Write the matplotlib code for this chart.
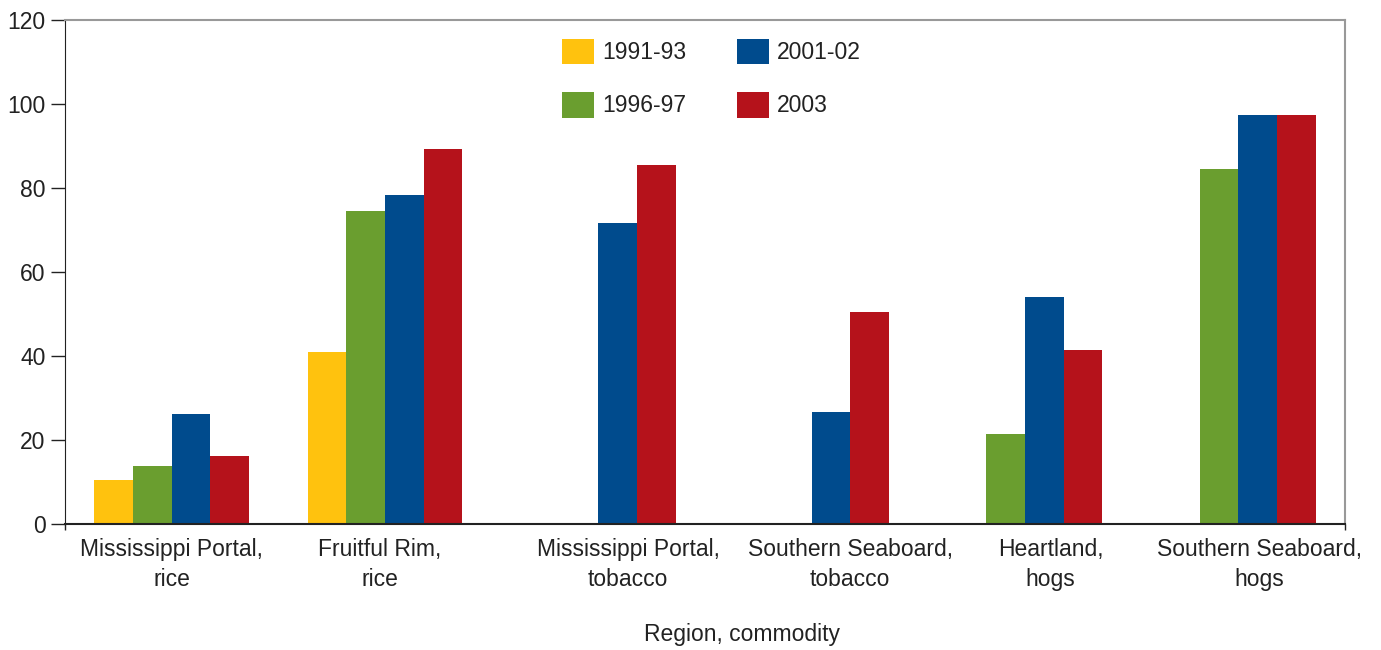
import numpy as np
import matplotlib
matplotlib.use("Agg")
import matplotlib.pyplot as plt

plt.rcParams['font.family'] = ['Liberation Sans', 'DejaVu Sans']

# Datos
groups = ["Mississippi Portal,\nrice", "Fruitful Rim,\nrice", "Mississippi Portal,\ntobacco",
          "Southern Seaboard,\ntobacco", "Heartland,\nhogs", "Southern Seaboard,\nhogs"]
series = ["1991-93", "1996-97", "2001-02", "2003"]
v_1991 = [10.5, 41.0, np.nan, np.nan, np.nan, np.nan]
v_1996 = [13.8, 74.5, np.nan, np.nan, 21.4, 84.5]
v_2001 = [26.2, 78.3, 71.7, 26.7, 54.0, 97.4]
v_2003 = [16.2, 89.3, 85.5, 50.5, 41.4, 97.4]
values = [v_1991, v_1996, v_2001, v_2003]
colors = ["#FFC20E", "#6A9E2F", "#004B8D", "#B5121B"]

# posiciones de las etiquetas (no exactamente centradas en el grupo)
label_pos = [0.0, 0.976, 2.14, 3.18, 4.12, 5.10]

fig = plt.figure(figsize=(13.81, 6.5), dpi=100)
ax = fig.add_axes([65/1381, 1-524/650, 1280/1381, 504/650])

x = np.arange(len(groups))
w = 0.1816
for i, (name, vals, c) in enumerate(zip(series, values, colors)):
    ax.bar(x + (i - 1.5) * w, vals, width=w, color=c, label=name, linewidth=0)

ax.set_xlim(-0.5, 5.5)
ax.set_ylim(0, 120)
ax.set_yticks(range(0, 121, 20))
ax.tick_params(axis='y', length=10, width=1, labelsize=16.5, pad=4, colors='#222222')
ax.set_xticks(label_pos)
ax.set_xticklabels(groups, fontsize=16.5, color='#222222', linespacing=1.4)
ax.tick_params(axis='x', which='major', length=0, pad=10)
ax.set_xticks([-0.5, 5.5], minor=True)
ax.tick_params(axis='x', which='minor', length=4, width=1, color='#222222')

ax.spines['left'].set_color('#222222')
ax.spines['bottom'].set_color('#222222')
ax.spines['bottom'].set_linewidth(1.5)
ax.spines['top'].set_color('#999999')
ax.spines['right'].set_color('#999999')
ax.spines['top'].set_linewidth(1.5)
ax.spines['right'].set_linewidth(1.5)

ax.legend(loc='upper center', bbox_to_anchor=(0.505, 1.004), ncol=2, frameon=False,
          fontsize=16.5, handlelength=1.4, handleheight=1.35, handletextpad=0.35,
          labelspacing=1.2, columnspacing=2.2, labelcolor='#222222')

fig.text(742/1381, 1-635/650, "Region, commodity", ha='center', va='center',
         fontsize=16.5, color='#222222')

fig.savefig("out.png", dpi=100)
